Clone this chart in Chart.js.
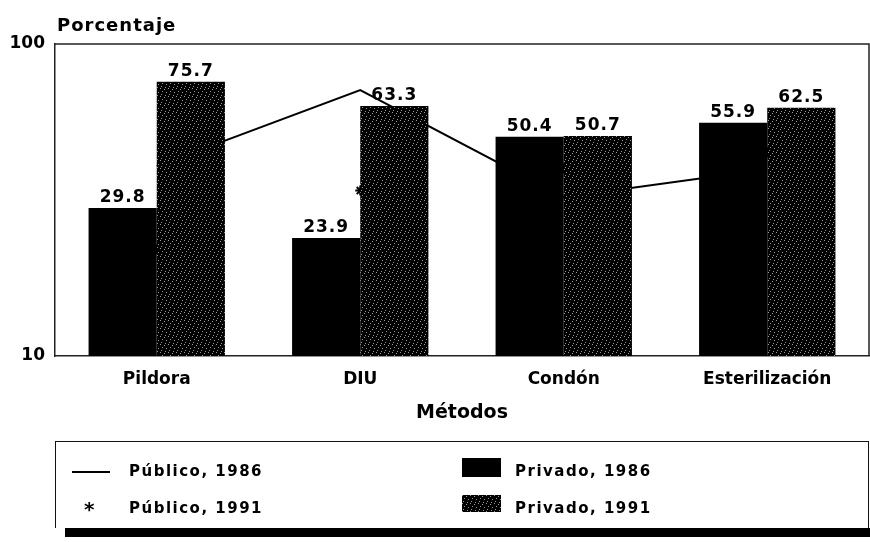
<!DOCTYPE html>
<html>
<head>
<meta charset="utf-8">
<script src="https://cdn.jsdelivr.net/npm/chart.js@4.4.1/dist/chart.umd.min.js"></script>
<style>
  body { margin: 0; background: #fff; font-family: 'DejaVu Sans', sans-serif; font-weight: bold; }
  #wrap { position: relative; width: 870px; height: 542px; }
  #chart { position: absolute; left: 0; top: 0; }
  .box { position: absolute; left: 55px; top: 441px; width: 812px; height: 86px; border: 1px solid #111; border-bottom: none; }
  .shadow { position: absolute; left: 65px; top: 528px; width: 805px; height: 9px; background: #000; }
  .item { position: absolute; font-size: 15px; letter-spacing: 1.5px; color: #000; }
  .sw { position: absolute; }
</style>
</head>
<body>
<div id="wrap">
  <canvas id="chart" width="870" height="542"></canvas>
  <div class="box"></div>
  <div class="shadow"></div>
  <div class="sw" style="left:72px;top:471px;width:38px;height:2px;background:#000"></div>
  <div class="item" style="left:129px;top:462px">Público, 1986</div>
  <div class="item" style="left:84px;top:497px;font-size:20px">*</div>
  <div class="item" style="left:129px;top:499px">Público, 1991</div>
  <div class="sw" style="left:462px;top:458px;width:39px;height:19px;background:#000"></div>
  <div class="item" style="left:515px;top:462px">Privado, 1986</div>
  <div class="sw" id="sw91" style="left:462px;top:495px;width:39px;height:17px"></div>
  <div class="item" style="left:515px;top:499px">Privado, 1991</div>
</div>
<script>
const metodos = ['Pildora', 'DIU', 'Condón', 'Esterilización'];
const publico1986 = [40.6, 71.2, 32.3, 39.7];
const publico1991 = [22, 33.9, 40, 45];
const privado1986 = [29.8, 23.9, 50.4, 55.9];
const privado1991 = [75.7, 63.3, 50.7, 62.5];
const yTicks = [10, 100];

// dotted fill like the printed screen
let tile = document.createElement('canvas');
tile.width = 8; tile.height = 8;
let tg = tile.getContext('2d');
tg.fillStyle = '#000';
tg.fillRect(0, 0, 8, 8);
tg.fillStyle = '#9a9a9a';
[[0,0],[4,1],[2,3],[6,4],[1,6],[5,7]].forEach(p => tg.fillRect(p[0], p[1], 1, 1));
document.querySelector('#sw91').style.background = 'url(' + tile.toDataURL() + ')';

let ctx = document.querySelector('#chart').getContext('2d');
let dotted = ctx.createPattern(tile, 'repeat');

Chart.defaults.font.family = "'DejaVu Sans', sans-serif";
Chart.defaults.font.weight = 'bold';
Chart.defaults.color = '#000';

const extras = {
  id: 'extras',
  afterDatasetsDraw(chart) {
    let c = chart.ctx, a = chart.chartArea;
    c.save();
    c.strokeStyle = '#222';
    c.lineWidth = 1.5;
    c.beginPath();
    c.moveTo(a.left, a.top);
    c.lineTo(a.right, a.top);
    c.lineTo(a.right, a.bottom);
    c.stroke();
    c.fillStyle = '#000';
    c.letterSpacing = '1px';
    c.font = "bold 17px 'DejaVu Sans'";
    c.textAlign = 'center';
    c.textBaseline = 'alphabetic';
    [2, 3].forEach(i => {
      chart.getDatasetMeta(i).data.forEach((bar, j) => {
        c.fillText(chart.data.datasets[i].data[j].toFixed(1), bar.x, bar.y - 6);
      });
    });
    c.textAlign = 'left';
    c.font = "bold 18px 'DejaVu Sans'";
    c.fillText('Porcentaje', a.left + 2, 31);
    c.restore();
  }
};

new Chart(ctx, {
  type: 'bar',
  data: {
    labels: metodos,
    datasets: [
      { type: 'line', label: 'Público, 1986', data: publico1986, borderColor: '#000', borderWidth: 2,
        pointRadius: 0, fill: false, order: 4 },
      { type: 'line', label: 'Público, 1991', data: publico1991, showLine: false, pointStyle: 'star',
        pointRadius: 5, borderColor: '#000', borderWidth: 2, order: 3 },
      { label: 'Privado, 1986', data: privado1986, backgroundColor: '#000', order: 1 },
      { label: 'Privado, 1991', data: privado1991, backgroundColor: dotted, order: 1 }
    ]
  },
  options: {
    responsive: false,
    animation: false,
    datasets: { bar: { barPercentage: 1, categoryPercentage: 0.67 } },
    layout: { autoPadding: false, padding: { top: 44, right: 1, left: 0, bottom: 118 } },
    plugins: { legend: { display: false }, tooltip: { enabled: false } },
    scales: {
      x: {
        grid: { display: false, drawTicks: false },
        border: { color: '#222', width: 1.5 },
        ticks: { padding: 13, font: { size: 17 } },
        title: { display: true, text: 'Métodos', font: { size: 19 }, padding: { top: 8, bottom: 0 } },
        afterFit: s => { s.height = 68; }
      },
      y: {
        type: 'logarithmic',
        min: 10,
        max: 100,
        grid: { display: false, drawTicks: false },
        border: { color: '#222', width: 1.5 },
        ticks: {
          padding: 10,
          font: { size: 17 },
          callback: v => yTicks.includes(v) ? String(v) : ''
        },
        afterFit: s => { s.width = 55; }
      }
    }
  },
  plugins: [extras]
});
</script>
</body>
</html>
